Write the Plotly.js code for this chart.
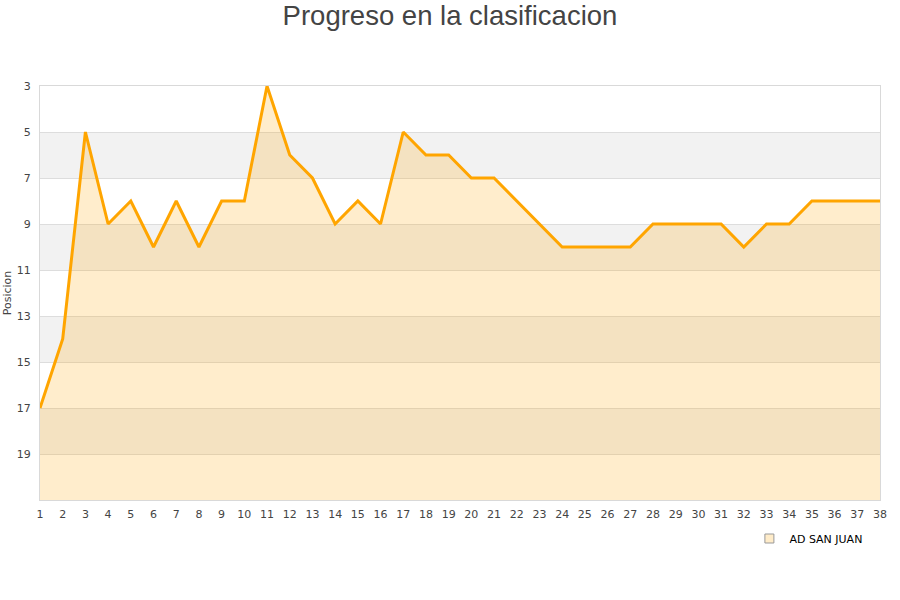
<!DOCTYPE html>
<html>
<head>
<meta charset="utf-8">
<script src="https://cdn.plot.ly/plotly-3.0.1.min.js"></script>
<style>html,body{margin:0;padding:0;background:#fff;}#chart{width:900px;height:600px;}</style>
</head>
<body>
<div id="chart"></div>
<script>
const jornadas = [1,2,3,4,5,6,7,8,9,10,11,12,13,14,15,16,17,18,19,20,21,22,23,24,25,26,27,28,29,30,31,32,33,34,35,36,37,38];
const posicion = [17,14,5,9,8,10,8,10,8,8,3,6,7,9,8,9,5,6,6,7,7,8,9,10,10,10,10,9,9,9,9,10,9,9,8,8,8,8];
const yTicks = [3,5,7,9,11,13,15,17,19];
const teamName = 'AD SAN JUAN';
const titleText = 'Progreso en la clasificacion';
const yTitle = 'Posicion';
const yMin = 3, yMax = 21;

const baseline = jornadas.map(() => yMax);

const bands = [];
for (let v = 5; v < yMax; v += 4) {
  bands.push({type:'rect', xref:'paper', yref:'y', x0:0, x1:1, y0:v, y1:v+2,
    fillcolor:'#f2f2f2', line:{width:0}, layer:'below'});
}

const traces = [
  {x: jornadas, y: baseline, mode:'lines', line:{width:0, color:'rgba(0,0,0,0)'}, showlegend:false, hoverinfo:'skip'},
  {x: jornadas, y: posicion, mode:'lines', fill:'tonexty', fillcolor:'rgba(255,165,0,0.2)',
   line:{color:'#ffa500', width:3}, showlegend:false, name: teamName},
  {x:[null], y:[null], mode:'markers', name: teamName,
   marker:{symbol:'square', size:9, color:'#ffecc9', line:{color:'#999', width:1}}}
];

const layout = {
  width:900, height:600,
  paper_bgcolor:'#fff', plot_bgcolor:'rgba(0,0,0,0)',
  margin:{l:40, r:20, t:86, b:100},
  title:{text:titleText, x:0.5, xanchor:'center', y:0.975, yanchor:'middle',
    font:{family:'Liberation Sans, Arial, sans-serif', size:27.5, color:'#444'}},
  font:{family:'DejaVu Sans, sans-serif', size:11, color:'#444'},
  xaxis:{range:[1,38], tickvals:jornadas, ticks:'', showgrid:false, zeroline:false,
    showline:true, mirror:true, linecolor:'#d9d9d9', linewidth:1, ticklabelstandoff:4,
    tickfont:{family:'DejaVu Sans, sans-serif', size:11, color:'#444'}, fixedrange:true},
  yaxis:{range:[yMax, yMin], tickvals:yTicks, ticks:'', showgrid:true, gridcolor:'#dddddd',
    zeroline:false, showline:true, mirror:true, linecolor:'#d9d9d9', linewidth:1, ticklabelstandoff:6,
    tickfont:{family:'DejaVu Sans, sans-serif', size:11, color:'#444'},
    title:{text:yTitle, standoff:2, font:{family:'DejaVu Sans, sans-serif', size:11, color:'#444'}}},
  shapes: bands,
  showlegend:true,
  legend:{x:0.985, xanchor:'right', y:-0.058, yanchor:'top', orientation:'h',
    font:{family:'DejaVu Sans, sans-serif', size:11, color:'#000'}, bgcolor:'rgba(0,0,0,0)'},
  hovermode:false
};

Plotly.newPlot('chart', traces, layout, {displayModeBar:false, staticPlot:true});
</script>
</body>
</html>
